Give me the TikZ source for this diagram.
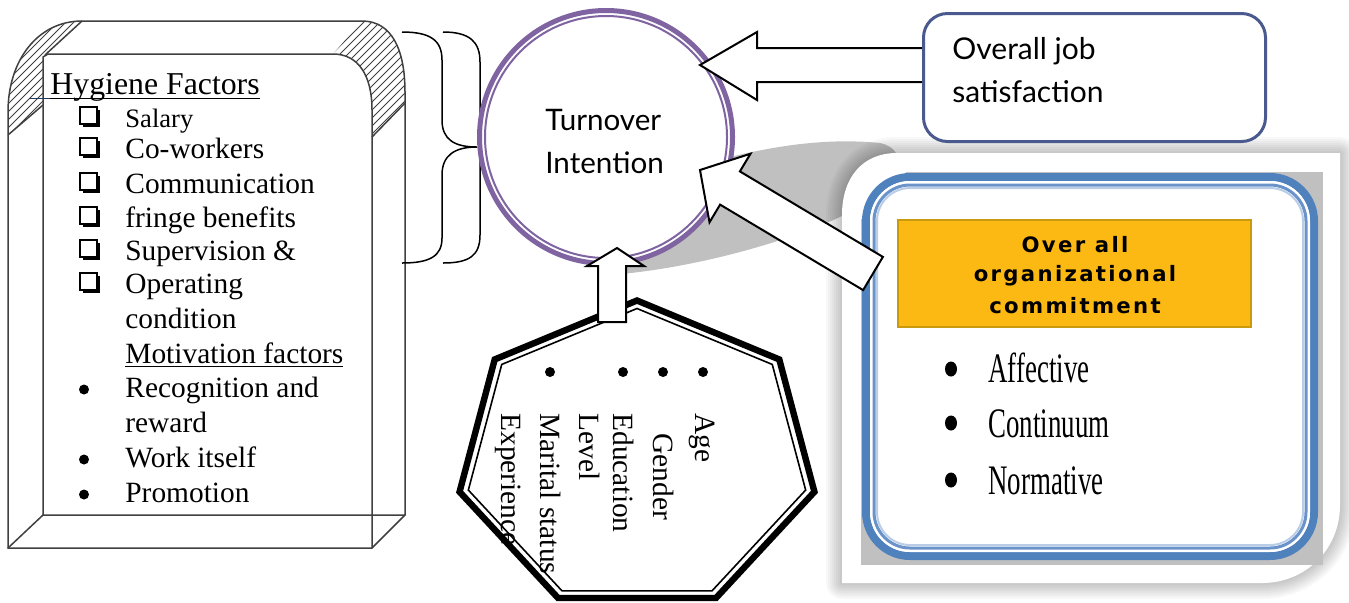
\documentclass[tikz,border=0pt]{standalone}
\usepackage{fontspec}
\usepackage{graphicx}
\setmainfont{Liberation Serif}
\newfontfamily\gillfont{Lato}
\newfontfamily\hdrfont{DejaVu Sans}[LetterSpace=11]
\definecolor{purp}{HTML}{8064A2}
\definecolor{jobblue}{HTML}{4A5A8E}
\definecolor{cblue}{HTML}{4F81BD}
\definecolor{cblue2}{HTML}{6A93C9}
\definecolor{cblue3}{HTML}{B9CDE6}
\definecolor{orng}{HTML}{FDB913}
\definecolor{orngd}{HTML}{C99A10}
\definecolor{lgray}{HTML}{C0C0C0}
\definecolor{navy}{HTML}{1F3864}
\tikzset{
  item/.style={anchor=base west, font=\fontsize{14.7}{17}\selectfont, inner sep=0pt},
  vitem/.style={anchor=base west, rotate=-90, font=\fontsize{14.7}{17}\selectfont, inner sep=0pt},
  citem/.style={anchor=base west, font=\fontsize{21}{24}\selectfont, inner sep=0pt},
  hdr/.style={anchor=base, font=\hdrfont\bfseries\fontsize{10.6}{12}\selectfont, inner sep=0pt},
  gill/.style={anchor=base west, font=\gillfont\fontsize{14.8}{17}\selectfont, inner sep=0pt},
  boxline/.style={draw=black!75, line width=0.75pt},
  hatchline/.style={draw=black!75, line width=0.45pt},
  blockarrow/.style={draw=black, line width=1pt, fill=white, line join=miter},
  pics/chk/.style={code={
    \fill[black] (3,3) rectangle (20,20);
    \filldraw[fill=white, draw=black, line width=0.6pt] (0,0) rectangle (17,17);
  }},
}
\begin{document}
\begin{tikzpicture}[x=0.5pt,y=-0.5pt]
\useasboundingbox (0,0) rectangle (1349,602);
\fill[white] (0,0) rectangle (1349,602);

% ---------- curled gray shadow ----------
\fill[lgray] (610,275) .. controls (700,268) and (800,238) .. (850,212)
  .. controls (900,185) and (912,150) .. (880,143)
  .. controls (820,137) and (760,148) .. (700,165)
  .. controls (660,185) and (630,230) .. (610,275) -- cycle;

% ---------- commitment card ----------
\foreach \w in {2,4,...,16}
  \draw[line width=\w pt, draw=black, draw opacity=0.028, line join=round]
    (842,583) -- (842,215) .. controls (842,178) and (862,153) .. (897,153)
    -- (1340,153) -- (1340,505) .. controls (1340,550) and (1305,583) .. (1262,583) -- cycle;
\fill[white] (842,583) -- (842,215) .. controls (842,178) and (862,153) .. (897,153)
    -- (1340,153) -- (1340,505) .. controls (1340,550) and (1305,583) .. (1262,583) -- cycle;
\fill[lgray] (861,172) rectangle (1323,565);
\fill[white] (859,170) rectangle (906,219);
\draw[cblue, line width=4pt, fill=white, rounded corners=22pt] (866,177) rectangle (1314,556);
\draw[white, line width=1pt, rounded corners=19.5pt] (871,182) rectangle (1309,551);
\draw[cblue2, line width=1.5pt, rounded corners=18pt] (874,185) rectangle (1306,548);
\draw[cblue3, line width=1pt, rounded corners=16.5pt] (877,188) rectangle (1303,545);

\node[draw=orngd, fill=orng, line width=0.6pt, minimum width=176.5pt, minimum height=53.5pt, inner sep=0pt] (orgbox) at (1074.5,273.5) {};
\node[hdr] (h1) at (1075,252) {Over all};
\node[hdr] (h2) at (1075,281) {organizational};
\node[hdr] (h3) at (1075,313) {commitment};

\fill (951,369) ellipse [x radius=6, y radius=7.5];
\fill (951,423) ellipse [x radius=6, y radius=7.5];
\fill (951,480) ellipse [x radius=6, y radius=7.5];
\node[citem] (c1) at (988,382) {\scalebox{0.64}[1]{Affective}};
\node[citem] (c2) at (988,437) {\scalebox{0.64}[1]{Continuum}};
\node[citem] (c3) at (988,494) {\scalebox{0.64}[1]{Normative}};

% ---------- hygiene / motivation box ----------
\begin{scope}
  \clip (8,135) -- (8,112) .. controls (8,60) and (38,21) .. (82,21) -- (45,55) -- (43,58) -- (43,105) -- cycle;
  \foreach \i in {-150,-142,...,100} \draw[hatchline] (\i,150) -- (\i+150,0);
\end{scope}
\begin{scope}
  \clip (362,21) .. controls (392,21) and (405,50) .. (405,92) -- (405,103) -- (372,137) -- (372,110) .. controls (372,75) and (358,54) .. (333,54) -- cycle;
  \foreach \i in {180,188,...,420} \draw[hatchline] (\i,150) -- (\i+150,0);
\end{scope}
\draw[boxline] (8,548) -- (8,112) .. controls (8,60) and (38,21) .. (82,21) -- (362,21)
  .. controls (392,21) and (405,50) .. (405,92) -- (405,515) -- (372,548) -- cycle;
\draw[boxline] (8,548) -- (43,515) -- (405,515);
\draw[boxline] (43,515) -- (43,57) -- (48,54) -- (333,54) .. controls (358,54) and (372,75) .. (372,110) -- (372,548);
\draw[boxline] (45,55) -- (82,21);
\draw[boxline] (43,105) -- (8,135);
\draw[boxline] (372,137) -- (405,103);

\node[anchor=base west, inner sep=0pt, font=\fontsize{15.9}{18}\selectfont] (hyg) at (50,94) {Hygiene Factors};
\draw[line width=0.6pt] (50,98.5) -- (260,98.5);
\draw[navy, line width=0.6pt] (29,98.5) -- (50,98.5);

\foreach \y in {127,158,193,227,260,293} \pic at (80,\y-20) {chk};
\node[item, font=\fontsize{13.3}{16}\selectfont] (s1) at (125,127) {Salary};
\node[item] (s2) at (125,158) {Co-workers};
\node[item] (s3) at (125,193) {Communication};
\node[item] (s4) at (125,227) {fringe benefits};
\node[item] (s5) at (125,260) {Supervision \&};
\node[item] (s6) at (125,293) {Operating};
\node[item] (s7) at (125,328) {condition};
\node[item] (m0) at (125,363) {Motivation factors};
\draw[line width=0.6pt] (125,366.5) -- (343,366.5);
\foreach \y in {397,467,502} \fill (84,\y-7.5) circle [radius=5];
\node[item] (m1) at (125,397) {Recognition and};
\node[item] (m2) at (125,432) {reward};
\node[item] (m3) at (125,467) {Work itself};
\node[item] (m4) at (125,502) {Promotion};

% ---------- braces ----------
\draw[line width=0.75pt] (402,32) .. controls (430,32) and (442,40) .. (442,60) -- (442,120)
  .. controls (442,140) and (455,147) .. (477,147)
  .. controls (455,147) and (442,155) .. (442,175) -- (442,238)
  .. controls (442,256) and (430,263) .. (402,263);
\draw[line width=0.75pt] (443,32) .. controls (470,32) and (480,42) .. (480,62) -- (480,235)
  .. controls (480,255) and (470,263) .. (443,263);

% ---------- turnover circle ----------
\node[circle, draw=purp, line width=2.5pt, fill=white, minimum size=126.5pt, inner sep=0pt] (turn) at (606,137) {};
\draw[purp, line width=1pt] (turn.center) circle [radius=121];
\node[gill] (t1) at (545,130) {Turnover};
\node[gill] (t2) at (545,173) {Intention};

% ---------- heptagon ----------
\begin{scope}[shift={(637,457)}]
\draw[line width=3.2pt, line join=miter, fill=white] (270:182 and 156.5)
  \foreach \k in {1,...,6} { -- ({270+\k*360/7}:182 and 156.5) } -- cycle;
\draw[line width=0.8pt, line join=miter] (270:173 and 148.5)
  \foreach \k in {1,...,6} { -- ({270+\k*360/7}:173 and 148.5) } -- cycle;
\end{scope}
\coordinate (hepttop) at (612,322);
\foreach \x in {550,623,663,703} \fill (\x,372) circle [radius=5];
\node[vitem] (d1) at (695,413) {Age};
\node[vitem] (d2) at (653,433) {Gender};
\node[vitem] (d3) at (613,413) {Education};
\node[vitem] (d4) at (579,413) {Level};
\node[vitem] (d5) at (540,413) {Marital status};
\node[vitem] (d6) at (501,413) {Experience};

% ---------- block arrows ----------
\draw[blockarrow] (598,322) -- (598,266) -- (587,266) -- (617,248) -- (644,266) -- (626,266) -- (626,322) -- cycle;
\draw[blockarrow] (930,48) -- (757,48) -- (757,32) -- (700,65) -- (757,100) -- (757,82) -- (930,82) -- cycle;
\draw[blockarrow] (700,170) -- (750.5,153.7) -- (739.9,171.4) -- (882.9,256.9) -- (863.1,290.1) -- (720.1,204.6) -- (709.5,222.3) -- cycle;

% ---------- job satisfaction box ----------
\node[draw=jobblue, line width=1.5pt, fill=white, rounded corners=12pt, minimum width=171pt, minimum height=64pt, inner sep=0pt] (job) at (1094.5,77.5) {};
\node[gill, font=\gillfont\fontsize{15}{18}\selectfont] (j1) at (952,59) {Overall job};
\node[gill, font=\gillfont\fontsize{15}{18}\selectfont] (j2) at (952,102) {satisfaction};
\end{tikzpicture}
\end{document}
